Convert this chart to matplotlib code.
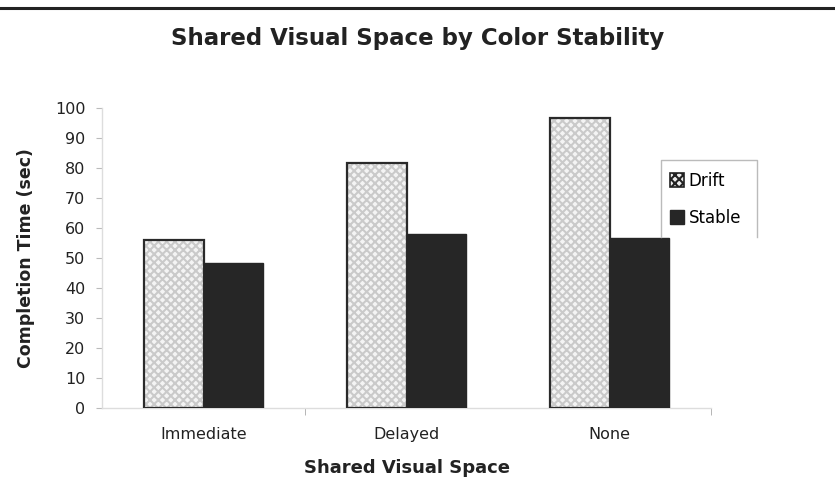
import matplotlib
matplotlib.use("Agg")
import matplotlib.pyplot as plt
import numpy as np
from matplotlib.patches import Patch
from matplotlib.lines import Line2D

categories = ["Immediate", "Delayed", "None"]
drift = [56, 81.5, 96.5]
stable = [48.5, 58, 56.5]
series_names = ["Drift", "Stable"]
yticks = [0, 10, 20, 30, 40, 50, 60, 70, 80, 90, 100]

plt.rcParams['font.family'] = ['DejaVu Sans']
plt.rcParams['hatch.linewidth'] = 1.5

fig = plt.figure(figsize=(8.35, 4.93), dpi=100)
ax = fig.add_axes([102/835, 1-408/493, (711-102)/835, 300/493])

x = np.arange(len(categories))
w = 0.295
# drift: checker-like fill
ax.bar(x - w/2, drift, w, color='#f4f4f4', edgecolor='#cacaca', hatch='xxxx', linewidth=0, zorder=2)
ax.bar(x - w/2, drift, w, fill=False, edgecolor='#2a2a2a', linewidth=1.6, zorder=3)
ax.bar(x + w/2, stable, w, color='#262626', edgecolor='#262626', linewidth=1.0, zorder=3)

ax.set_xlim(-0.5, 2.5)
ax.set_ylim(0, 100)
ax.set_yticks(yticks)
ax.set_yticklabels([str(t) for t in yticks], fontsize=11.5, color='#222222')
ax.set_xticks(x)
ax.set_xticklabels(categories, fontsize=11.5, color='#222222')
ax.tick_params(axis='x', length=0, pad=14)
ax.set_xticks([0.5, 2.5], minor=True)
ax.tick_params(axis='x', which='minor', length=5, color='#aaaaaa', direction='out')
ax.tick_params(axis='y', length=4, color='#bbbbbb', pad=8)

for s in ['top', 'right']:
    ax.spines[s].set_visible(False)
for s in ['left', 'bottom']:
    ax.spines[s].set_color('#dddddd')
    ax.spines[s].set_linewidth(1.0)

ax.set_ylabel("Completion Time (sec)", fontsize=12.5, fontweight='bold', color='#222222', labelpad=14)
ax.set_xlabel("Shared Visual Space", fontsize=13, fontweight='bold', color='#222222', labelpad=12)
fig.text(0.5, 1-38/493, "Shared Visual Space by Color Stability", ha='center', va='center',
         fontsize=16.5, fontweight='bold', color='#222222')

# top rule
fig.add_artist(Line2D([0, 1], [1-8/493, 1-8/493], color='#222222', linewidth=2.2, transform=fig.transFigure))

# legend
handles = [Patch(facecolor='#eeeeee', edgecolor='#222222', hatch='xxxx', linewidth=1.2, label=series_names[0]),
           Patch(facecolor='#262626', edgecolor='#262626', label=series_names[1])]
leg = fig.legend(handles=handles, loc='upper left', bbox_to_anchor=(663/835, 1-165/493),
                 frameon=False, fontsize=12, handlelength=0.85, handleheight=0.85,
                 handletextpad=0.3, labelspacing=1.15, borderaxespad=0)
lx0, lx1, ly0, ly1 = 661/835, 757/835, 1-237/493, 1-160/493
fig.add_artist(Line2D([lx0, lx0, lx1, lx1], [ly0, ly1, ly1, ly0], color='#bbbbbb', linewidth=1.0,
                      transform=fig.transFigure))

fig.savefig("out.png", dpi=100, facecolor='white')
